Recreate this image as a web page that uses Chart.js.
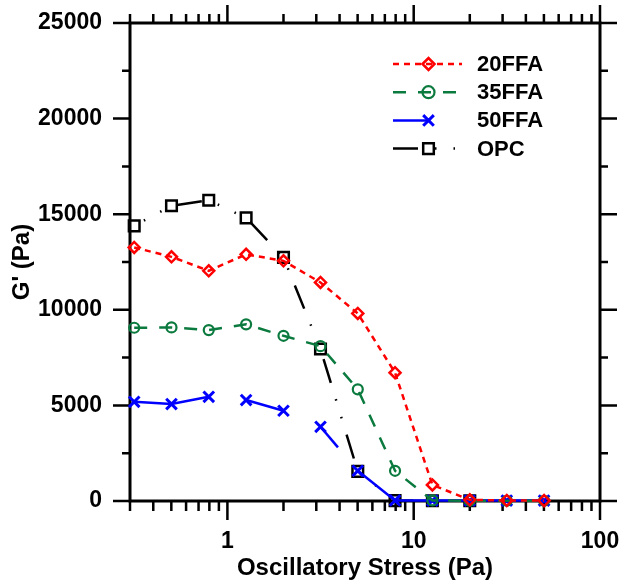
<!DOCTYPE html>
<html>
<head>
<meta charset="utf-8">
<title>G' vs oscillatory stress</title>
<script src="https://cdn.jsdelivr.net/npm/chart.js@4.4.1/dist/chart.umd.min.js"></script>
<style>
  html, body { margin: 0; padding: 0; background: #fff; }
  #chart { display: block; }
</style>
</head>
<body>
<canvas id="chart" width="621" height="586"></canvas>
<script>
// stress sweep (Pa), shared by every mix
var stress = [0.316, 0.501, 0.794, 1.26, 2.0, 3.16, 5.01, 7.94, 12.6, 20.0, 31.6, 50.1];
// storage modulus G' (Pa)
var g20FFA = [13260, 12770, 12040, 12900, 12560, 11430, 9810, 6710, 840, 60, 30, 20];
var g35FFA = [9060, 9080, 8940, 9240, 8640, 8100, 5840, 1580, 30, 10, 10, 10];
var g50FFA = [5190, 5070, 5450, 5280, 4720, 3880, 1580, 30, 20, 20, 20, 20];
var gOPC = [14390, 15440, 15730, 14810, 12740, 7950, 1550, 20, 10, 10];
var seriesNames = ["20FFA", "35FFA", "50FFA", "OPC"];
var yTicks = [0, 5000, 10000, 15000, 20000, 25000];
var xTickLabels = [1, 10, 100];

var FONT = "'Liberation Sans', Arial, Helvetica, sans-serif";
var CLEAR = "rgba(0,0,0,0)";

function toPoints(ys) {
    return ys.map(function (y, i) { return { x: stress[i], y: y }; });
}

// keep the plot box where it is: no extra room for overhanging labels
function noOverhang(s) {
    s.paddingTop = 0;
    s.paddingBottom = 0;
    s.paddingLeft = 0;
    s.paddingRight = 0;
}

// axis box with outward ticks on all four sides
var frame = {
    id: "frame",
    beforeDatasetsDraw: function (chart) {
        var ctx = chart.ctx, a = chart.chartArea;
        var xs = chart.scales.x, ys = chart.scales.y;
        ctx.save();
        ctx.strokeStyle = "#000";
        ctx.lineWidth = 2.5;
        ctx.lineCap = "butt";
        ctx.beginPath();
        // y ticks every 2500, long ones on the labelled values
        for (var v = 0; v <= 25000; v += 2500) {
            var py = ys.getPixelForValue(v);
            var big = yTicks.indexOf(v) >= 0;
            ctx.moveTo(a.left, py); ctx.lineTo(a.left - (big ? 17 : 8), py);
            ctx.moveTo(a.right, py); ctx.lineTo(a.right + (big ? 17 : 8), py);
        }
        // log ticks 0.3 .. 100
        [0.1, 1, 10, 100].forEach(function (d) {
            for (var m = 1; m <= 9; m++) {
                var val = m * d;
                if (val < 0.3 || val > 100.001) continue;
                var px = xs.getPixelForValue(val);
                var major = m === 1;
                ctx.moveTo(px, a.bottom); ctx.lineTo(px, a.bottom + (major ? 19 : 10));
                ctx.moveTo(px, a.top); ctx.lineTo(px, a.top - (major ? 18 : 9));
            }
        });
        ctx.stroke();
        ctx.lineWidth = 3;
        ctx.strokeRect(a.left, a.top, a.right - a.left, a.bottom - a.top);
        ctx.restore();
    }
};

// legend: line sample with its marker, then the name
var legendBox = {
    id: "legendBox",
    afterDraw: function (chart) {
        var ctx = chart.ctx;
        ctx.save();
        chart.data.datasets.forEach(function (ds, i) {
            var y = 64 + i * 28.2;
            ctx.strokeStyle = ds.borderColor;
            ctx.lineWidth = ds.borderWidth;
            ctx.setLineDash(ds.borderDash || []);
            ctx.lineDashOffset = 0;
            ctx.beginPath();
            ctx.moveTo(393, y);
            ctx.lineTo(ds.legendLineEnd || 462, y);
            ctx.stroke();
            ctx.setLineDash([]);
            ctx.fillStyle = CLEAR;
            ctx.lineWidth = ds.pointBorderWidth;
            Chart.helpers.drawPoint(ctx, {
                pointStyle: ds.pointStyle,
                radius: ds.legendRadius || ds.pointRadius,
                rotation: 0,
                borderWidth: ds.pointBorderWidth
            }, 428.5, y);
            ctx.fillStyle = "#000";
            ctx.font = "bold 22px " + FONT;
            ctx.textBaseline = "middle";
            ctx.textAlign = "left";
            ctx.fillText(ds.label, 477, y + 1);
        });
        ctx.restore();
    }
};

var blue = "#0000ff";

new Chart("chart", {
    type: "line",
    data: {
        datasets: [
            {
                label: seriesNames[0],
                data: toPoints(g20FFA),
                borderColor: "#ff0000",
                borderWidth: 2.5,
                borderDash: [6, 5],
                pointStyle: "rectRot",
                pointRadius: 5.5,
                legendRadius: 6,
                pointBorderWidth: 2.5,
                pointBorderColor: "#ff0000",
                pointBackgroundColor: CLEAR,
                clip: false
            },
            {
                label: seriesNames[1],
                data: toPoints(g35FFA),
                borderColor: "#0b7a3e",
                borderWidth: 2.5,
                borderDash: [13, 12],
                pointStyle: "circle",
                pointRadius: 5,
                legendRadius: 6,
                pointBorderWidth: 2.2,
                pointBorderColor: "#0b7a3e",
                pointBackgroundColor: CLEAR,
                clip: false
            },
            {
                label: seriesNames[2],
                data: toPoints(g50FFA),
                borderColor: blue,
                borderWidth: 2.5,
                pointStyle: "crossRot",
                pointRadius: 7.5,
                pointBorderWidth: 3,
                pointBorderColor: blue,
                pointBackgroundColor: CLEAR,
                legendLineEnd: 428,
                // the curve is broken after 0.8 Pa and 2 Pa, and fades out past 3.16 Pa
                segment: {
                    borderColor: function (c) {
                        return (c.p0DataIndex === 2 || c.p0DataIndex === 4) ? CLEAR : blue;
                    },
                    borderDash: function (c) {
                        return c.p0DataIndex === 5 ? [27, 200] : [];
                    }
                },
                clip: false
            },
            {
                label: seriesNames[3],
                data: toPoints(gOPC),
                borderColor: "#000",
                borderWidth: 2.5,
                borderDash: [25, 17, 1.5, 17, 1.5, 17],
                borderDashOffset: 31,
                pointStyle: "rect",
                pointRadius: 7.5,
                pointBorderWidth: 2.5,
                pointBorderColor: "#000",
                pointBackgroundColor: CLEAR,
                clip: false
            }
        ]
    },
    options: {
        responsive: false,
        animation: false,
        layout: { padding: { top: 23, right: 21, left: 0, bottom: 0 } },
        plugins: {
            legend: { display: false },
            tooltip: { enabled: false }
        },
        scales: {
            x: {
                type: "logarithmic",
                min: 0.336,
                max: 100,
                grid: { display: false, drawTicks: false },
                border: { display: false },
                afterFit: function (s) { s.height = 85; noOverhang(s); },
                ticks: {
                    autoSkip: false,
                    maxRotation: 0,
                    padding: 27,
                    color: "#000",
                    font: { family: FONT, size: 23, weight: "bold" },
                    callback: function (v) {
                        for (var i = 0; i < xTickLabels.length; i++) {
                            if (Math.abs(v - xTickLabels[i]) < 1e-6 * xTickLabels[i]) return String(xTickLabels[i]);
                        }
                        return "";
                    }
                },
                title: {
                    display: true,
                    text: "Oscillatory Stress (Pa)",
                    color: "#000",
                    font: { family: FONT, size: 24, weight: "bold" },
                    padding: { top: 0, bottom: 3 }
                }
            },
            y: {
                min: 0,
                max: 25000,
                grid: { display: false, drawTicks: false },
                border: { display: false },
                afterFit: function (s) { s.width = 130; noOverhang(s); },
                ticks: {
                    stepSize: 5000,
                    padding: 28,
                    color: "#000",
                    font: { family: FONT, size: 23, weight: "bold" },
                    callback: function (v) { return String(v); }
                },
                title: {
                    display: true,
                    text: "G' (Pa)",
                    color: "#000",
                    font: { family: FONT, size: 24, weight: "bold" },
                    padding: { top: 8, bottom: 0 }
                }
            }
        }
    },
    plugins: [frame, legendBox]
});
</script>
</body>
</html>
